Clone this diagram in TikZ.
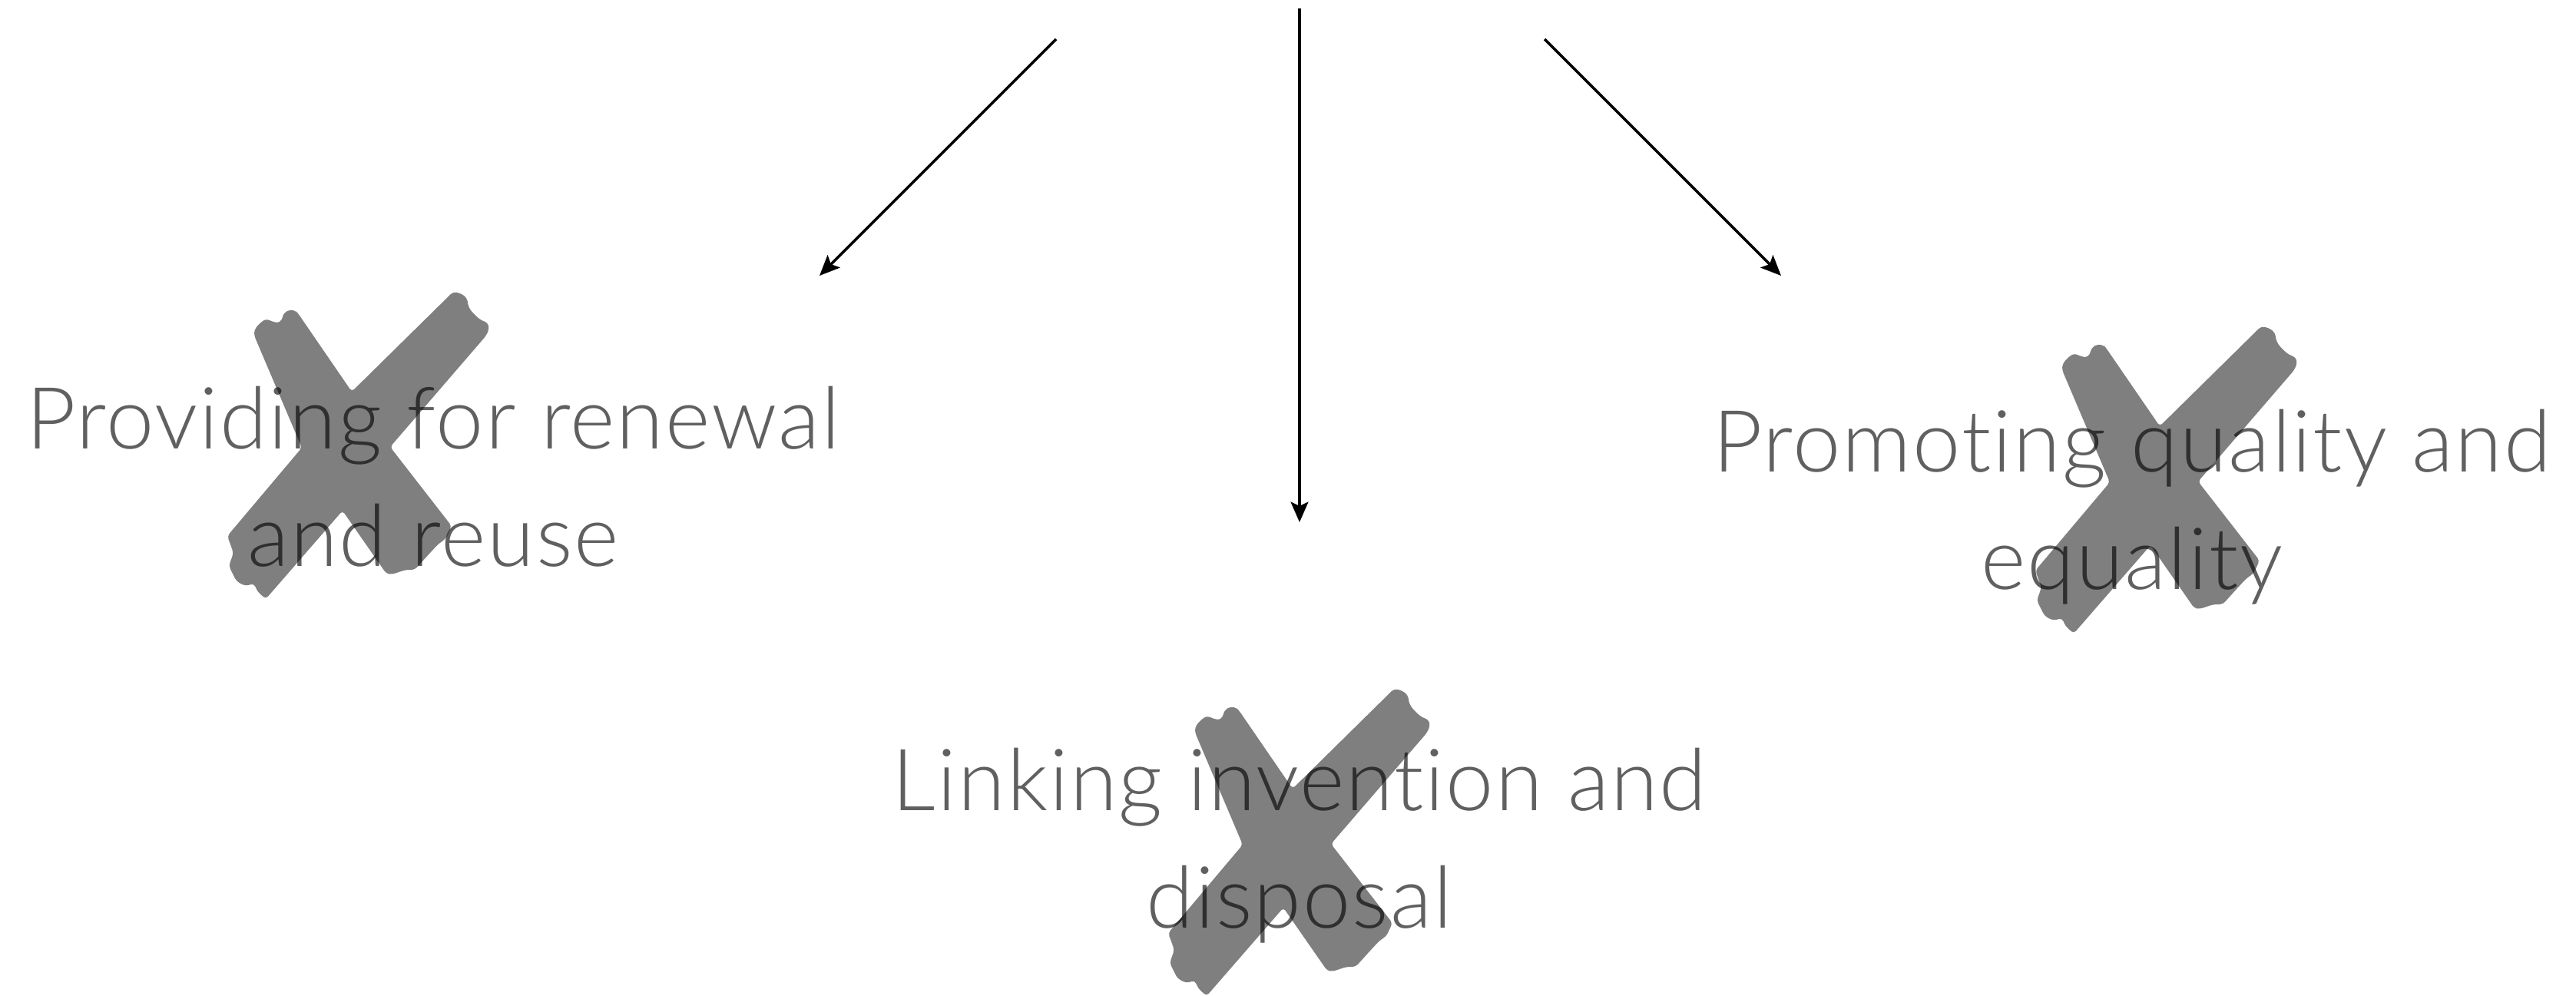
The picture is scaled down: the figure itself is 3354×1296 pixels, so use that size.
\documentclass[tikz,border=0pt]{standalone}
\usepackage{fontspec}
\setmainfont{Lato Light}[LetterSpace=1.8, Ligatures=NoCommon]
\usetikzlibrary{arrows.meta}
\definecolor{labelgray}{RGB}{96,96,96}
\tikzset{
	goal/.style={inner sep=0pt, align=center, anchor=base, text=labelgray,
		font=\fontsize{31.8}{43.5}\selectfont},
	flow/.style={line width=1pt, -{Stealth[length=7.5pt, width=6.5pt, inset=1.5pt]}}
}
% brush-stroke cross, placed by the tip of its upper notch
\def\tapecross(#1){\fill[black, fill opacity=0.5, rounded corners=1.2pt, shift={(#1)}]
	(0,0) -- (132,-130) -- (142,-128) -- (150,-122) -- (152,-110) -- (158,-102)
	-- (168,-93) -- (177,-90) -- (179,-82) -- (175,-73) -- (50,72) -- (130,175)
	-- (122,192) -- (113,198) -- (100,212) -- (82,232) -- (70,232) -- (52,238)
	-- (45,237) -- (-12,155) -- (-112,270) -- (-123,260) -- (-127,250) -- (-139,253)
	-- (-150,247) -- (-160,227) -- (-154,210) -- (-162,188) -- (-65,73) -- (-127,-73)
	-- (-127,-80) -- (-122,-87) -- (-112,-95) -- (-100,-90) -- (-93,-90) -- (-90,-97)
	-- (-88,-103) -- (-80,-107) -- (-73,-105) -- (-70,-102) -- cycle;}

\begin{document}
\begin{tikzpicture}[x=0.01cm, y=-0.01cm]
		%%%%% START %%%%%
		\useasboundingbox (0,0) rectangle (3354,1296);
		
		% anchor is the baseline of the second line
		\node[goal] (renewal) at (564, 737) {Providing for renewal\\and reuse};
		\node[goal] (disposal) at (1692, 1208) {Linking invention and\\disposal};
		\node[goal] (equality) at (2776, 767) {Promoting quality and\\equality};
		
		\coordinate (leftstart) at (1375, 51);
		\coordinate (leftend) at (1067, 359);
		\coordinate (midstart) at (1692, 11);
		\coordinate (midend) at (1692, 680);
		\coordinate (rightstart) at (2011, 51);
		\coordinate (rightend) at (2319, 359);
		
		\draw[flow] (leftstart) -- (leftend);
		\draw[flow] (midstart) -- (midend);
		\draw[flow] (rightstart) -- (rightend);
		
		\coordinate (renewalx) at (458, 510);
		\coordinate (disposalx) at (1683, 1027);
		\coordinate (equalityx) at (2812, 555);
		
		\tapecross(renewalx)
		\tapecross(disposalx)
		\tapecross(equalityx)
		%%%%% END %%%%%
\end{tikzpicture}
\end{document}
